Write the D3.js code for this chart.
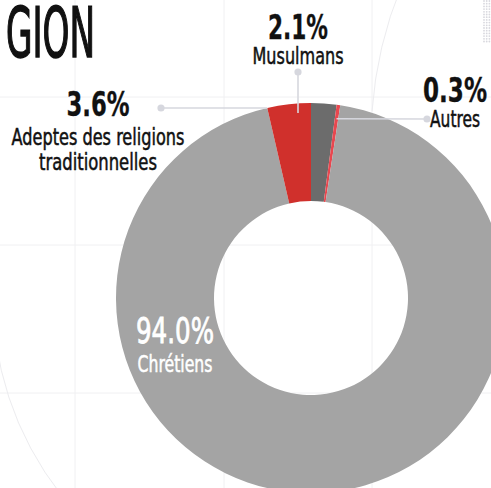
<!DOCTYPE html>
<html>
<head>
<meta charset="utf-8">
<script src="https://cdn.jsdelivr.net/npm/d3@7"></script>
<style>
  html, body { margin: 0; padding: 0; background: #fff; overflow: hidden; }
  text { font-family: "Liberation Sans Narrow", "DejaVu Sans Condensed", sans-serif; }
</style>
</head>
<body>
<div id="chart"></div>
<script>
// data
const categories = ["Musulmans", "Autres", "Chrétiens", "Adeptes des religions traditionnelles"];
const values = [2.1, 0.3, 94.0, 3.6];
const sliceColors = ["#6c6c6c", "#e8474f", "#a4a4a4", "#d0302c"];
const titleText = "GION";

// label layout (text boxes)
const labelLayout = [
    {lines: ["Musulmans"], x: 298, pctY: 39, pctW: 60, nameY: 64, nameW: [91], dot: [298, 72], end: [298, 113]},
    {lines: ["Autres"], x: 455, pctY: 102, pctW: 64, nameY: 127, nameW: [50], dot: [427, 119], endR: 181},
    {lines: ["Chrétiens"], x: 175, pctY: 343, pctW: 78, nameY: 372, nameW: [75], inside: true},
    {lines: ["Adeptes des religions", "traditionnelles"], x: 98, pctY: 116, pctW: 63, nameY: 145, nameW: [173, 118], dot: [161, 108], endStart: true}
];

const width = 491, height = 488;
const cx = 311, cy = 298, outerR = 195, innerR = 97;

const svg = d3.select("#chart").append("svg")
    .attr("width", width)
    .attr("height", height);

// background grid + faint decoration
const bg = svg.append("g").attr("class", "bg");
[75, 224, 372].forEach(x => {
    bg.append("line").attr("x1", x).attr("x2", x).attr("y1", 0).attr("y2", height)
        .attr("stroke", "#f0f0f2").attr("stroke-width", 1);
});
[97, 245, 393].forEach(y => {
    bg.append("line").attr("x1", 0).attr("x2", width).attr("y1", y).attr("y2", y)
        .attr("stroke", "#f0f0f2").attr("stroke-width", 1);
});

// two partial decorative arcs
function arcPath(x, y, r, a0, a1) {
    const p = d3.path();
    p.moveTo(x + r * Math.cos(a0), y + r * Math.sin(a0));
    p.arc(x, y, r, a0, a1, a1 < a0);
    return p.toString();
}
bg.append("path").attr("d", arcPath(775, 140, 404, -2.75, -3.07))
    .attr("fill", "none").attr("stroke", "#ececef").attr("stroke-width", 1);
bg.append("path").attr("d", arcPath(cx, cy, 318, 3.0, 2.3))
    .attr("fill", "none").attr("stroke", "#ececef").attr("stroke-width", 1);

// dotted patch top right
for (let x = 484; x <= 492; x += 2.7) {
    for (let y = 1; y <= 42; y += 2.7) {
        bg.append("circle").attr("cx", x).attr("cy", y).attr("r", 0.9).attr("fill", "#d8d8de");
    }
}

// title
svg.append("text")
    .attr("x", 6)
    .attr("y", 57)
    .attr("font-size", 69)
    .attr("fill", "#111")
    .attr("stroke", "#111")
    .attr("stroke-width", 1.6)
    .attr("textLength", 89)
    .attr("lengthAdjust", "spacingAndGlyphs")
    .text(titleText);

// donut
const data = categories.map((c, i) => ({name: c, value: values[i], color: sliceColors[i], layout: labelLayout[i]}));

const pie = d3.pie().sort(null).value(d => d.value);
const arc = d3.arc().innerRadius(innerR).outerRadius(outerR);
const arcs = pie(data);

const donut = svg.append("g").attr("transform", `translate(${cx},${cy})`);
donut.selectAll("path")
    .data(arcs)
    .enter().append("path")
    .attr("d", arc)
    .attr("fill", d => d.data.color);

// point on a ray from centre
function polar(angle, r) {
    return [cx + r * Math.sin(angle), cy - r * Math.cos(angle)];
}

// leader lines and labels
const lab = svg.append("g").attr("class", "labels");
arcs.forEach(a => {
    const L = a.data.layout;
    const fill = L.inside ? "#fff" : "#111";

    if (L.dot) {
        let end = L.end;
        if (L.endStart) end = polar(a.startAngle, outerR);
        if (L.endR) end = polar((a.startAngle + a.endAngle) / 2, L.endR);
        if (L.endStart) end = [end[0], L.dot[1]];
        lab.append("line")
            .attr("x1", L.dot[0]).attr("y1", L.dot[1])
            .attr("x2", end[0]).attr("y2", end[1])
            .attr("stroke", "#d6d7de").attr("stroke-width", 1.6);
        lab.append("circle")
            .attr("cx", L.dot[0]).attr("cy", L.dot[1]).attr("r", 3.6)
            .attr("fill", "#d6d7de");
    }

    lab.append("text")
        .attr("x", L.x).attr("y", L.pctY)
        .attr("text-anchor", "middle")
        .attr("font-size", L.inside ? 35 : 33)
        .attr("font-weight", L.inside ? "normal" : "bold")
        .attr("fill", fill)
        .attr("stroke", fill)
        .attr("stroke-width", L.inside ? 0.8 : 0.3)
        .attr("textLength", L.pctW)
        .attr("lengthAdjust", "spacingAndGlyphs")
        .text(d3.format(".1f")(a.data.value) + "%");

    L.lines.forEach((line, i) => {
        lab.append("text")
            .attr("x", L.x).attr("y", L.nameY + i * 25)
            .attr("text-anchor", "middle")
            .attr("font-size", 23)
            .attr("fill", fill)
            .attr("stroke", fill)
            .attr("stroke-width", 0.5)
            .attr("textLength", L.nameW[i])
            .attr("lengthAdjust", "spacingAndGlyphs")
            .text(line);
    });
});
</script>
</body>
</html>
